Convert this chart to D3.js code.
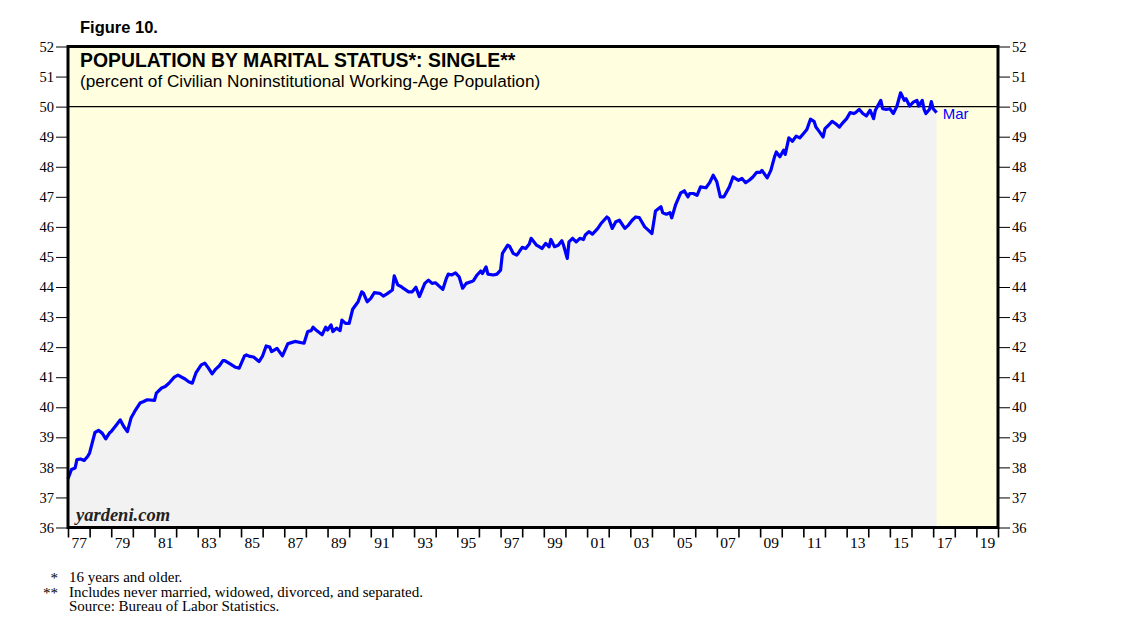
<!DOCTYPE html>
<html>
<head>
<meta charset="utf-8">
<script src="https://cdn.jsdelivr.net/npm/d3@7/dist/d3.min.js"></script>
<style>
  body { margin: 0; background: #ffffff; }
  svg { display: block; }
</style>
</head>
<body>
<svg id="chart" width="1138" height="621"></svg>
<script>
// ---- DATA ----
const dates = [
 "1977-01","1977-03","1977-05","1977-06","1977-08","1977-10","1977-12",
 "1978-01","1978-04","1978-06","1978-08","1978-10","1978-12",
 "1979-01","1979-04","1979-06","1979-08","1979-10","1979-12",
 "1980-02","1980-05","1980-07","1980-09",
 "1981-01","1981-02","1981-05","1981-07","1981-09","1981-12",
 "1982-02","1982-06","1982-08","1982-10","1982-12",
 "1983-03","1983-05","1983-07","1983-09","1983-11",
 "1984-01","1984-03","1984-04","1984-07","1984-10","1984-12",
 "1985-03","1985-04","1985-06","1985-08","1985-11",
 "1986-01","1986-03","1986-05","1986-06","1986-09","1986-12",
 "1987-03","1987-05","1987-07","1987-12",
 "1988-02","1988-04","1988-05","1988-07","1988-10","1988-12",
 "1989-01","1989-03","1989-04","1989-06","1989-08","1989-09","1989-11",
 "1990-01","1990-03","1990-06","1990-08","1990-09","1990-11",
 "1991-01","1991-03","1991-06","1991-08","1991-10",
 "1992-01","1992-02","1992-04","1992-06","1992-07","1992-10","1992-12",
 "1993-02","1993-04","1993-07","1993-09","1993-11",
 "1994-01","1994-03","1994-05","1994-07","1994-08","1994-10","1994-12",
 "1995-02","1995-04","1995-06","1995-09","1995-10","1995-12",
 "1996-02","1996-03","1996-05","1996-06","1996-09","1996-11",
 "1997-01","1997-02","1997-05","1997-06","1997-08","1997-10","1997-11",
 "1998-01","1998-03","1998-05","1998-06","1998-09","1998-10","1998-12",
 "1999-02","1999-04","1999-05","1999-07","1999-09","1999-11","1999-12",
 "2000-02","2000-03","2000-05","2000-07","2000-09","2000-11","2000-12",
 "2001-02","2001-04","2001-07","2001-09","2001-12",
 "2002-01","2002-03","2002-05","2002-07","2002-10","2002-12",
 "2003-02","2003-04","2003-06","2003-09","2003-11",
 "2004-01","2004-03","2004-06","2004-07","2004-09","2004-11","2004-12",
 "2005-02","2005-05","2005-07","2005-09","2005-10","2005-12",
 "2006-02","2006-04","2006-07","2006-09","2006-11",
 "2007-01","2007-03","2007-05","2007-08","2007-10",
 "2008-01","2008-03","2008-05","2008-07","2008-09","2008-11",
 "2009-01","2009-02","2009-05","2009-07","2009-09","2009-10","2009-12",
 "2010-02","2010-03","2010-05","2010-07","2010-09","2010-11",
 "2011-01","2011-03","2011-05","2011-07","2011-08","2011-10","2011-12",
 "2012-01","2012-03","2012-05","2012-07","2012-09","2012-11",
 "2013-01","2013-03","2013-05","2013-06","2013-08","2013-10","2013-12",
 "2014-02","2014-04","2014-05","2014-08","2014-09","2014-11",
 "2015-01","2015-03","2015-05","2015-07","2015-09","2015-10","2015-12",
 "2016-02","2016-04","2016-05","2016-07","2016-08","2016-09","2016-11","2016-12",
 "2017-01","2017-03"
];
const singleShare = [
 37.62,37.93,37.98,38.26,38.28,38.23,38.37,
 38.48,39.16,39.23,39.14,38.95,39.14,
 39.19,39.42,39.58,39.36,39.19,39.64,
 39.86,40.14,40.19,40.25,
 40.23,40.47,40.64,40.69,40.80,41.00,
 41.07,40.94,40.85,40.80,41.14,
 41.41,41.47,41.30,41.11,41.27,
 41.38,41.55,41.55,41.44,41.33,41.30,
 41.71,41.74,41.69,41.67,41.52,
 41.71,42.04,42.00,41.85,41.96,41.71,
 42.11,42.15,42.19,42.13,
 42.52,42.55,42.66,42.55,42.41,42.66,
 42.57,42.74,42.52,42.63,42.55,42.90,42.79,
 42.79,43.26,43.51,43.84,43.79,43.51,
 43.62,43.81,43.79,43.70,43.77,
 43.90,44.37,44.07,44.01,43.96,43.84,43.84,
 43.99,43.68,44.12,44.23,44.12,
 44.14,44.03,43.92,44.29,44.43,44.40,44.47,
 44.34,43.96,44.12,44.18,44.21,44.40,
 44.53,44.45,44.67,44.43,44.40,44.43,
 44.56,45.12,45.39,45.36,45.12,45.06,45.14,
 45.32,45.28,45.43,45.62,45.39,45.36,45.28,
 45.45,45.34,45.58,45.34,45.39,45.54,45.39,
 44.95,45.50,45.62,45.50,45.62,45.58,45.73,
 45.84,45.76,45.95,46.13,46.33,
 46.28,45.95,46.17,46.22,45.95,46.06,
 46.22,46.33,46.31,46.00,45.89,
 45.78,46.53,46.67,46.47,46.42,46.47,46.30,
 46.72,47.13,47.20,47.00,47.11,47.11,
 47.05,47.33,47.30,47.47,47.72,
 47.50,47.00,47.00,47.33,47.66,
 47.55,47.61,47.47,47.55,47.66,47.81,
 47.81,47.88,47.63,47.88,48.33,48.49,48.33,
 48.55,48.41,48.96,48.85,49.02,48.96,
 49.10,49.24,49.58,49.51,49.32,49.16,48.99,
 49.27,49.38,49.51,49.43,49.32,49.47,
 49.60,49.80,49.77,49.80,49.91,49.77,49.69,
 49.88,49.60,49.88,50.21,49.93,49.91,
 49.93,49.77,50.02,50.46,50.21,50.26,50.02,
 50.15,50.21,50.02,50.21,49.91,49.77,49.91,50.17,
 49.93,49.80
];
const yTicks = [36,37,38,39,40,41,42,43,44,45,46,47,48,49,50,51,52];
const xLabelYears = [1977,1979,1981,1983,1985,1987,1989,1991,1993,1995,1997,1999,2001,2003,2005,2007,2009,2011,2013,2015,2017,2019];
const lastLabel = "Mar";

// ---- LAYOUT ----
const svg = d3.select("#chart");
const L = 68, R = 998, T = 46.5, B = 527.5;
const parse = d3.timeParse("%Y-%m");
const data = dates.map((d, i) => ({ date: parse(d), value: singleShare[i] }));

const x = d3.scaleTime().domain([new Date(1977, 0, 1), new Date(2020, 0, 1)]).range([L, R]);
const y = d3.scaleLinear().domain([36, 52]).range([B, T]);

// plot background
svg.append("rect").attr("x", L).attr("y", T).attr("width", R - L).attr("height", B - T)
  .attr("fill", "#FFFFE0");

// area
const area = d3.area().x(d => x(d.date)).y0(y(36)).y1(d => y(d.value)).curve(d3.curveLinear);
svg.append("path").datum(data).attr("d", area).attr("fill", "#F2F2F2");

// 50 reference line
svg.append("line").attr("x1", L).attr("x2", R).attr("y1", y(50)).attr("y2", y(50))
  .attr("stroke", "#000").attr("stroke-width", 1.2);

// line
const line = d3.line().x(d => x(d.date)).y(d => y(d.value));
svg.append("path").datum(data).attr("d", line).attr("fill", "none")
  .attr("stroke", "#0000FF").attr("stroke-width", 3.2).attr("stroke-linejoin", "round");

// last label
const last = data[data.length - 1];
svg.append("text").attr("x", x(last.date) + 6).attr("y", y(last.value) + 6)
  .attr("font-family", "Liberation Sans, Arial, sans-serif").attr("font-size", 15)
  .attr("fill", "#0000FF").text(lastLabel);

// y axes
const axisFont = "Liberation Serif, Times New Roman, serif";
const yl = svg.append("g").attr("transform", `translate(${L},0)`)
  .call(d3.axisLeft(y).tickValues(yTicks).tickSize(12).tickPadding(2).tickFormat(d3.format("d")));
const yr = svg.append("g").attr("transform", `translate(${R},0)`)
  .call(d3.axisRight(y).tickValues(yTicks).tickSize(12).tickPadding(2).tickFormat(d3.format("d")));
[yl, yr].forEach(g => {
  g.select(".domain").remove();
  g.selectAll("line").attr("stroke", "#000").attr("stroke-width", 1);
  g.selectAll("text").attr("font-family", axisFont).attr("font-size", 14.5).attr("fill", "#000");
});

// x axis: ticks at year boundaries
const yearTicks = d3.range(1977, 2021).map(yy => new Date(yy, 0, 1));
const xt = svg.append("g").attr("transform", `translate(0,${B})`)
  .call(d3.axisBottom(x).tickValues(yearTicks).tickSize(10).tickFormat(""));
xt.select(".domain").remove();
xt.selectAll("line").attr("stroke", "#000").attr("stroke-width", 1.6);

// x labels at mid-year
const midDates = xLabelYears.map(yy => new Date(yy, 6, 1));
const xl = svg.append("g").attr("transform", `translate(0,${B})`)
  .call(d3.axisBottom(x).tickValues(midDates).tickSize(0).tickPadding(9)
    .tickFormat(d => d3.timeFormat("%y")(d)));
xl.select(".domain").remove();
xl.selectAll("text").attr("font-family", axisFont).attr("font-size", 15.5).attr("fill", "#000");

// frame
svg.append("rect").attr("x", L).attr("y", T).attr("width", R - L).attr("height", B - T)
  .attr("fill", "none").attr("stroke", "#000").attr("stroke-width", 3);

// titles
const sans = "Liberation Sans, Arial, Helvetica, sans-serif";
svg.append("text").attr("x", 80).attr("y", 33).attr("font-family", sans)
  .attr("font-weight", "bold").attr("font-size", 16.5).text("Figure 10.");
svg.append("text").attr("x", 80).attr("y", 67).attr("font-family", sans)
  .attr("font-weight", "bold").attr("font-size", 19.4).text("POPULATION BY MARITAL STATUS*: SINGLE**");
svg.append("text").attr("x", 80).attr("y", 87).attr("font-family", sans)
  .attr("font-size", 17.2).text("(percent of Civilian Noninstitutional Working-Age Population)");

// watermark
svg.append("text").attr("x", 76).attr("y", 521).attr("font-family", axisFont)
  .attr("font-style", "italic").attr("font-weight", "bold").attr("font-size", 18.5)
  .attr("fill", "#222").text("yardeni.com");

// footnotes
const notes = [
  { mark: "*", text: "16 years and older.", y: 582 },
  { mark: "**", text: "Includes never married, widowed, divorced, and separated.", y: 597 },
  { mark: "", text: "Source: Bureau of Labor Statistics.", y: 611 }
];
notes.forEach(n => {
  svg.append("text").attr("x", 58).attr("y", n.y + 1).attr("text-anchor", "end")
    .attr("font-family", axisFont).attr("font-size", 15).text(n.mark);
  svg.append("text").attr("x", 69).attr("y", n.y)
    .attr("font-family", axisFont).attr("font-size", 15).text(n.text);
});
</script>
</body>
</html>
